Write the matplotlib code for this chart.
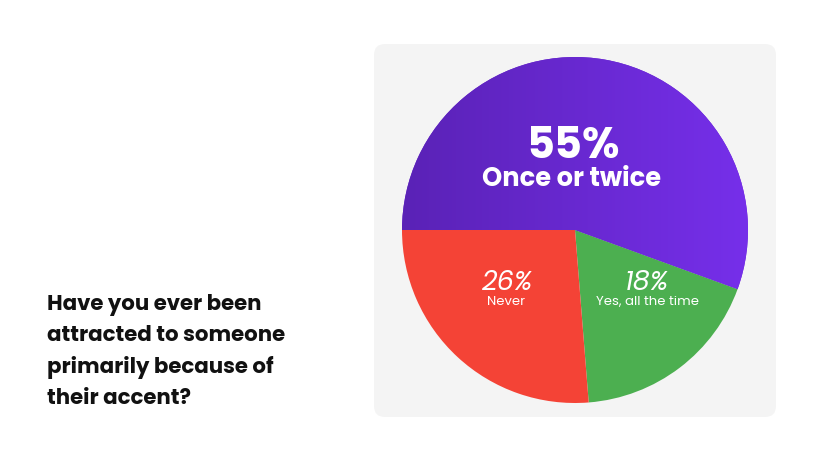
import numpy as np
import matplotlib.pyplot as plt
from matplotlib.patches import FancyBboxPatch
from matplotlib.colors import LinearSegmentedColormap

plt.rcParams['font.family'] = ['Poppins', 'Lato', 'DejaVu Sans']

# data
answers = ['Once or twice', 'Yes, all the time', 'Never']
shares = [55, 18, 26]
colors = ['#6a28cf', '#4caf50', '#f44336']
question = 'Have you ever been\nattracted to someone\nprimarily because of\ntheir accent?'

W, H = 820, 462
fig = plt.figure(figsize=(W / 100, H / 100), dpi=100)
ax = fig.add_axes([0, 0, 1, 1])

# grey card behind the pie
card = FancyBboxPatch((374, H - 417), 402, 373,
                      boxstyle='round,pad=0,rounding_size=11',
                      facecolor='#f4f4f4', edgecolor='none', zorder=0)
ax.add_patch(card)

cx, cy, r = 575, H - 230, 173
wedges, _ = ax.pie(shares, colors=colors, startangle=180, counterclock=False,
                   radius=r, center=(cx, cy), frame=True,
                   wedgeprops=dict(linewidth=0))

# purple slice has a left-to-right gradient
cmap = LinearSegmentedColormap.from_list('purp', ['#5a22b6', '#762fea'])
grad = np.linspace(0, 1, 256).reshape(1, -1)
im = ax.imshow(grad, cmap=cmap, extent=(cx - r, cx + r, cy - r, cy + r),
               aspect='auto', zorder=wedges[0].get_zorder() + 0.1)
im.set_clip_path(wedges[0])

# labels
ax.text(573, H - 147, f'{shares[0]}%', color='white', fontsize=31,
        fontweight='bold', ha='center', va='center', zorder=5)
ax.text(572, H - 180, answers[0], color='white', fontsize=18.5,
        fontweight='bold', ha='center', va='center', zorder=5)

ax.text(508, H - 283, f'{shares[2]}%', color='white', fontsize=19.5,
        style='italic', ha='center', va='center', zorder=5)
ax.text(506, H - 302, answers[2], color='white', fontsize=9.5,
        ha='center', va='center', zorder=5)

ax.text(647, H - 283, f'{shares[1]}%', color='white', fontsize=19.5,
        style='italic', ha='center', va='center', zorder=5)
ax.text(648, H - 302, answers[1], color='white', fontsize=9.5,
        ha='center', va='center', zorder=5)

ax.text(47, H - 352, question, color='#111111', fontsize=15.3,
        fontweight='bold', ha='left', va='center', linespacing=1.55)

ax.set_xlim(0, W)
ax.set_ylim(0, H)
ax.set_aspect('auto')
ax.axis('off')

fig.savefig('out.png', dpi=100, facecolor='white')
